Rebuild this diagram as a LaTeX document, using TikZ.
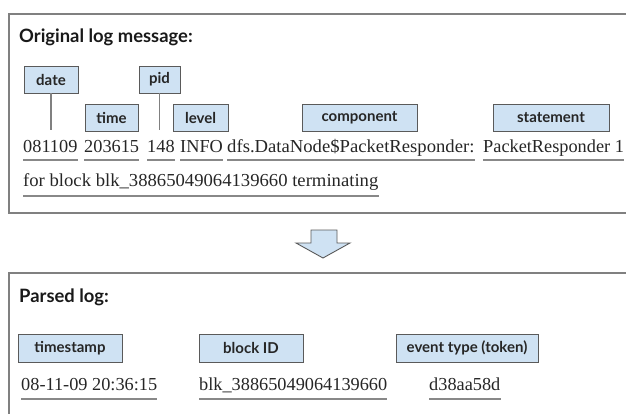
\documentclass[tikz,border=0pt]{standalone}
\usepackage{fontspec}
\setmainfont{Liberation Serif}
\newfontfamily\lato{Lato}
\definecolor{lblfill}{HTML}{CFE2F3}
\definecolor{lbldraw}{HTML}{5A5A5A}
\definecolor{frame}{HTML}{808080}
\definecolor{uline}{HTML}{888888}
\tikzset{
  lbl/.style={draw=lbldraw, line width=0.9pt, fill=lblfill, inner sep=0pt, minimum height=27pt, font=\lato\bfseries\fontsize{15}{15}\selectfont, text=black!85},
  tok/.style={inner sep=0pt, anchor=base west, font=\fontsize{18.3}{18.3}\selectfont, text=black!85},
  ttl/.style={inner sep=0pt, anchor=base west, font=\lato\bfseries\fontsize{18.4}{18.4}\selectfont, text=black!90},
  uln/.style={draw=uline, line width=1.8pt},
  frm/.style={draw=frame, line width=1.4pt},
  pin/.style={draw=frame, line width=1.3pt}
}
\begin{document}
\begin{tikzpicture}[x=1pt,y=-1pt]
\useasboundingbox (0,0) rectangle (626,413);
% frames
\draw[frm] (627,14) -- (9,14) -- (9,213) -- (627,213);
\draw[frm] (627,273) -- (9,273) -- (9,414);
% titles
\node[ttl] (t1) at (19,42) {Original log message:};
\node[ttl] (t2) at (19,302) {Parsed log:};
% labels
\node[lbl, minimum width=54pt] (date) at (51,79.5) {date};
\node[lbl, minimum width=41pt] (pid) at (159.5,79.5) {pid};
\node[lbl, minimum width=53pt] (time) at (111.5,117.5) {time};
\node[lbl, minimum width=55pt] (level) at (200.5,117.5) {level};
\node[lbl, minimum width=115pt] (comp) at (359.5,117.5) {component};
\node[lbl, minimum width=116pt] (stmt) at (551,117.5) {statement};
% pins
\coordinate (dateend) at (51,130);
\coordinate (pidend) at (159.5,130);
\draw[pin] (date.south) -- (dateend);
\draw[pin] (pid.south) -- (pidend);
% tokens line 1
\node[tok] (a1) at (23,152) {081109};
\node[tok] (a2) at (84,152) {203615};
\node[tok] (a3) at (147,152) {148};
\node[tok] (a4) at (180,152) {INFO};
\node[tok] (a5) at (227,152) {\scalebox{1.02}[1]{dfs.DataNode\$PacketResponder:}};
\node[tok] (a6) at (483,152) {PacketResponder 1};
\node[tok] (b1) at (23,186) {\scalebox{1.02}[1]{for block blk\_38865049064139660 terminating}};
\foreach \n in {a1,a2,a3,a4,a5,a6}{
  \draw[uln] ([yshift=-8pt]\n.base west) -- ([yshift=-8pt]\n.base east);
}
\draw[uln] ([yshift=-10pt]b1.base west) -- ([yshift=-10pt]b1.base east);
% arrow
\draw[draw=lbldraw, line width=0.9pt, fill=lblfill, line join=miter]
  (311,230) -- (337,230) -- (337,243) -- (350,243) -- (323,258) -- (296,243) -- (311,243) -- cycle;
% parsed labels
\node[lbl, minimum width=104pt, minimum height=28pt] (ts) at (70,348) {timestamp};
\node[lbl, minimum width=104pt, minimum height=28pt] (bid) at (251,348) {block ID};
\node[lbl, minimum width=142pt, minimum height=28pt] (ev) at (467,348) {event type (token)};
% parsed values
\node[tok] (v1) at (21,390) {08-11-09 20:36:15};
\node[tok] (v2) at (199,390) {blk\_38865049064139660};
\node[tok] (v3) at (429,390) {d38aa58d};
\foreach \n in {v1,v2,v3}{
  \draw[uln] ([yshift=-9pt]\n.base west) -- ([yshift=-9pt]\n.base east);
}
\end{tikzpicture}
\end{document}
